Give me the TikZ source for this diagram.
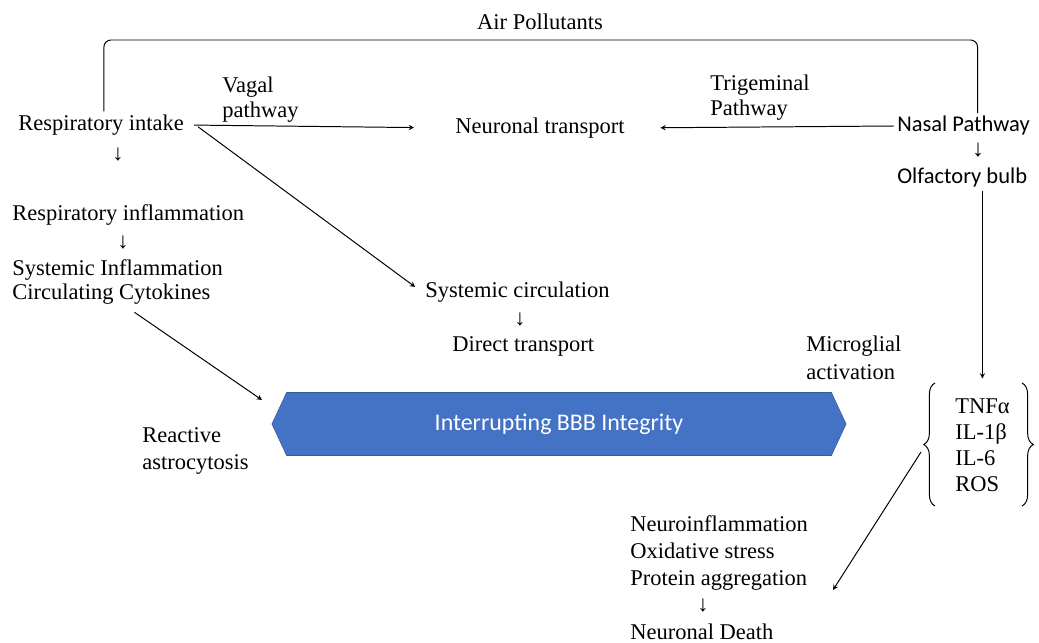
\documentclass[tikz,border=0pt]{standalone}
\usepackage{fontspec}
\setmainfont{Liberation Serif}
\newfontfamily\calfont{Carlito}
\newfontfamily\arrfont{Liberation Sans}
\usepackage{tikz}
\usetikzlibrary{shapes.symbols,decorations.pathreplacing}
\definecolor{bbbblue}{HTML}{4472C4}
\tikzstyle{arrow} = [->,>=stealth]
\tikzstyle{txt} = [font=\fontsize{16}{19}\selectfont, inner sep=2pt]
\tikzstyle{lft} = [txt, anchor=west, align=left]

\begin{document}
\begin{tikzpicture}[x=0.025cm,y=-0.025cm, line width=0.7pt]
        \useasboundingbox (0,0) rectangle (1039,643);
        \node[txt] at (540,22) (air) {Air Pollutants};
        \node[lft] at (15,125) (resp) {Respiratory intake};
        \node[txt] at (118,155) (d1) {↓};
        \node[lft, font=\fontsize{16}{17.7}\selectfont] at (219,100) (vagal) {Vagal\\pathway};
        \node[txt] at (540,128) (neur) {Neuronal transport};
        \node[lft, font=\fontsize{16}{17.7}\selectfont] at (707,98) (trig) {Trigeminal\\Pathway};
        \node[lft, font=\fontsize{16}{19}\calfont] at (894,126) (nasal) {Nasal Pathway};
        \node[txt, font=\fontsize{17}{19}\arrfont] at (978,150) (d2) {↓};
        \node[lft, font=\fontsize{16}{19}\calfont] at (894,178) (olf) {Olfactory bulb};
        \coordinate (top) at (540,40);

        \node[lft] at (9,215) (respinf) {Respiratory inflammation};
        \node[txt] at (123,243) (d3) {↓};
        \node[lft, font=\fontsize{16}{17.7}\selectfont] at (9,282) (sysinf) {Systemic Inflammation\\Circulating Cytokines};
        \node[lft] at (422,292) (syscirc) {Systemic circulation};
        \node[txt] at (520,320) (d4) {↓};
        \node[lft] at (449,346) (direct) {Direct transport};
        \node[lft, font=\fontsize{16}{19.8}\selectfont] at (803,358) (micro) {Microglial\\activation};
        \node[lft, font=\fontsize{16}{19}\selectfont] at (139,451) (react) {Reactive\\astrocytosis};

        \node[signal, signal to=west and east, signal pointer angle=130, fill=bbbblue, draw=bbbblue!80!black,
              minimum width=14.35cm, minimum height=1.575cm, inner sep=0pt, text=white, line width=0.4pt,
              font=\fontsize{17}{20}\calfont] at (559,424) (bbb) {Interrupting BBB Integrity};

        \node[lft, font=\fontsize{16}{18.4}\selectfont] at (952,445) (cyto) {TNFα\\IL-1β\\IL-6\\ROS};
        \draw[decorate, decoration={brace, amplitude=8pt}] (935,506) -- (935,383);
        \draw[decorate, decoration={brace, amplitude=8pt}] (1022,383) -- (1022,506);
        \coordinate (bl) at (921,452);

        \node[lft] at (627,553) (neuro) {Neuroinflammation\\Oxidative stress\\Protein aggregation};
        \node[txt] at (703,606) (d5) {↓};
        \node[lft] at (627,632) (death) {Neuronal Death};
        \coordinate (pa) at (833,590);
        \coordinate (cc) at (262,400);

        \draw[rounded corners=5pt] ([xshift=2pt]resp.north) |- (top) -| ([xshift=10pt]nasal.north);
        \draw[arrow, shorten <=5pt, shorten >=27pt] (resp.east) -- (neur.west);
        \draw[arrow, shorten >=23pt] (nasal.west) -- (neur.east);
        \draw[arrow, shorten <=2pt, shorten >=6pt] ([xshift=6pt]resp.east) -- (syscirc.west);
        \draw[arrow] ([xshift=12pt,yshift=-3pt]sysinf.south) -- (cc);
        \draw[arrow, shorten >=12pt] (olf.south -| cyto.north) -- (cyto.north);
        \draw[arrow] (bl) -- (pa);

    \end{tikzpicture}
\end{document}
